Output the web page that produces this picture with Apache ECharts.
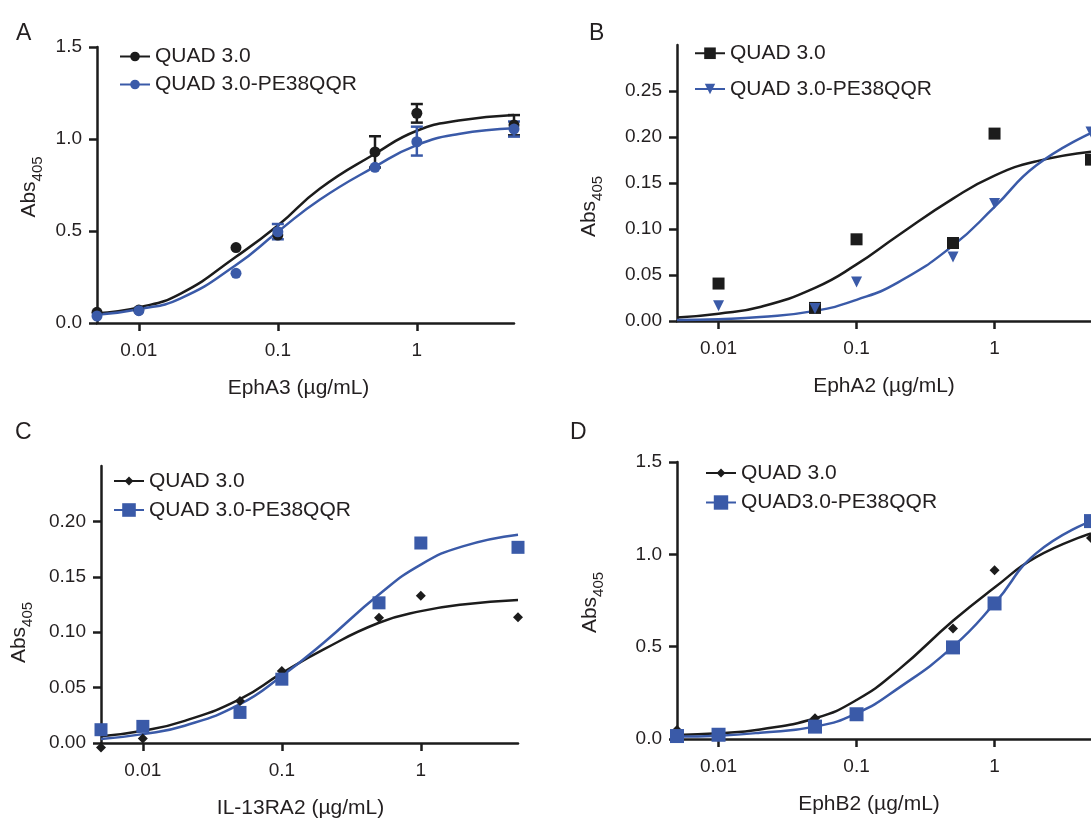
<!DOCTYPE html>
<html>
<head>
<meta charset="utf-8">
<script src="https://cdn.jsdelivr.net/npm/echarts@6/dist/echarts.min.js"></script>
<style>
  html, body { margin: 0; padding: 0; background: #fff; }
  #chart { width: 1091px; height: 820px; }
</style>
</head>
<body>
<div id="chart"></div>
<script>
// x ticks shared by all panels (log scale)
const xTicks = [0.01, 0.1, 1];

// A - EphA3
const doseA = [0.005, 0.01, 0.05, 0.1, 0.5, 1, 5];
const quadA = [0.058, 0.07, 0.41, 0.478, 0.93, 1.14, 1.076];
const peA = [0.038, 0.067, 0.27, 0.496, 0.846, 0.985, 1.054];
const errQuadA = [[0.5, 0.845, 1.015], [1, 1.089, 1.19], [5, 1.02, 1.13]];
const errPeA = [[0.1, 0.455, 0.538], [1, 0.91, 1.067], [5, 1.013, 1.095]];
const fitXA = [0.005, 0.01, 0.02, 0.05, 0.1, 0.2, 0.5, 1, 2, 5];
const fitQuadA = [0.053, 0.085, 0.16, 0.36, 0.53, 0.73, 0.92, 1.045, 1.10, 1.13];
const fitPeA = [0.045, 0.075, 0.134, 0.315, 0.496, 0.67, 0.85, 0.967, 1.027, 1.058];

// B - EphA2
const doseB = [0.01, 0.05, 0.1, 0.5, 1, 5];
const quadB = [0.0407, 0.0142, 0.0888, 0.0848, 0.2037, 0.1754];
const peB = [0.0167, 0.0135, 0.0424, 0.0696, 0.1276, 0.2054];
const fitXB = [0.005, 0.01, 0.02, 0.05, 0.1, 0.2, 0.5, 1, 2, 5];
const fitQuadB = [0.0037, 0.008, 0.0152, 0.036, 0.0615, 0.093, 0.133, 0.158, 0.1735, 0.184];
const fitPeB = [0.001, 0.002, 0.0043, 0.011, 0.023, 0.042, 0.082, 0.124, 0.169, 0.2043];

// C - IL-13RA2
const doseC = [0.005, 0.01, 0.05, 0.1, 0.5, 1, 5];
const quadC = [-0.004, 0.004, 0.038, 0.065, 0.113, 0.133, 0.1136];
const peC = [0.012, 0.015, 0.0276, 0.0576, 0.1265, 0.1805, 0.1766];
const fitXC = [0.005, 0.01, 0.02, 0.05, 0.1, 0.2, 0.5, 1, 2, 5];
const fitQuadC = [0.006, 0.011, 0.020, 0.0396, 0.063, 0.0845, 0.1085, 0.119, 0.125, 0.129];
const fitPeC = [0.0036, 0.008, 0.0156, 0.035, 0.0605, 0.0905, 0.134, 0.161, 0.1775, 0.188];

// D - EphB2
const doseD = [0.005, 0.01, 0.05, 0.1, 0.5, 1, 5];
const quadD = [0.049, 0.02, 0.112, 0.13, 0.599, 0.914, 1.089];
const peD = [0.016, 0.023, 0.067, 0.134, 0.496, 0.734, 1.18];
const fitXD = [0.005, 0.01, 0.02, 0.05, 0.1, 0.2, 0.5, 1, 2, 5];
const fitQuadD = [0.022, 0.031, 0.052, 0.112, 0.211, 0.373, 0.64, 0.82, 0.985, 1.113];
const fitPeD = [0.013, 0.018, 0.034, 0.067, 0.139, 0.274, 0.50, 0.734, 1.005, 1.18];

const FONT = 'Liberation Sans, Arial, Helvetica, sans-serif';
const INK = '#231f20';
const BLACK = '#1c1c1c';
const BLUE = '#3a5aa8';

const zip = (xs, ys) => xs.map((x, i) => [x, ys[i]]);

// 图例显示名
const legendNames = {
  a1: 'QUAD 3.0', a2: 'QUAD 3.0-PE38QQR',
  b1: 'QUAD 3.0', b2: 'QUAD 3.0-PE38QQR',
  c1: 'QUAD 3.0', c2: 'QUAD 3.0-PE38QQR',
  d1: 'QUAD 3.0', d2: 'QUAD3.0-PE38QQR'
};

const panels = [
  { key: 'a', grid: { left: 97, top: 47, width: 417, height: 276 }, yMax: 1.5,
    yTicks: [0, 0.5, 1, 1.5], dec: 1, xName: 'EphA3 (\u00b5g/mL)', xPad: [0, 14, 0, 0], yGap: 57, yPad: [0, 4, 0, 0],
    s1: { dose: doseA, vals: quadA, fx: fitXA, fy: fitQuadA, symbol: 'circle', size: 11, legendH: 12, err: errQuadA },
    s2: { dose: doseA, vals: peA, fx: fitXA, fy: fitPeA, symbol: 'circle', size: 11, legendH: 12, err: errPeA },
    legend: [{ left: 119, cy: 52 }, { left: 119, cy: 80 }] },
  { key: 'b', grid: { left: 677, top: 45, width: 414, height: 276 }, yMax: 0.3,
    yTicks: [0, 0.05, 0.1, 0.15, 0.2, 0.25], dec: 2, xName: 'EphA2 (\u00b5g/mL)', xPad: [0, 0, 0, 0], yGap: 77, yPad: [0, 47, 0, 0],
    s1: { dose: doseB, vals: quadB, fx: fitXB, fy: fitQuadB, symbol: 'rect', size: 12, legendH: 14.5 },
    s2: { dose: doseB, vals: peB, fx: fitXB, fy: fitPeB, symbol: 'triangle', rotate: 180, size: 11, legendH: 13 },
    legend: [{ left: 694, cy: 50 }, { left: 694, cy: 85 }] },
  { key: 'c', grid: { left: 101, top: 466, width: 417, height: 278 }, yMax: 0.25,
    yTicks: [0, 0.05, 0.1, 0.15, 0.2], dec: 2, xName: 'IL-13RA2 (\u00b5g/mL)', xPad: [0, 18, 0, 0], yGap: 71, yPad: [0, 56, 0, 0],
    s1: { dose: doseC, vals: quadC, fx: fitXC, fy: fitQuadC, symbol: 'diamond', size: 10, legendH: 11 },
    s2: { dose: doseC, vals: peC, fx: fitXC, fy: fitPeC, symbol: 'rect', size: 13, legendH: 17 },
    legend: [{ left: 113, cy: 476 }, { left: 113, cy: 508 }] },
  { key: 'd', grid: { left: 677, top: 462, width: 414, height: 277 }, yMax: 1.5,
    yTicks: [0, 0.5, 1, 1.5], dec: 1, xName: 'EphB2 (\u00b5g/mL)', xPad: [0, 30, 0, 0], yGap: 76, yPad: [0, 4, 0, 0],
    s1: { dose: doseD, vals: quadD, fx: fitXD, fy: fitQuadD, symbol: 'diamond', size: 10, legendH: 11 },
    s2: { dose: doseD, vals: peD, fx: fitXD, fy: fitPeD, symbol: 'rect', size: 14, legendH: 18 },
    legend: [{ left: 705, cy: 468 }, { left: 705, cy: 501 }] }
];

const option = {
  animation: false,
  backgroundColor: '#fff',
  textStyle: { fontFamily: FONT, color: INK },
  title: [
    { text: 'A', left: 11, top: 17 },
    { text: 'B', left: 584, top: 17 },
    { text: 'C', left: 10, top: 416 },
    { text: 'D', left: 565, top: 416 }
  ].map(t => Object.assign(t, { textStyle: { fontFamily: FONT, fontSize: 23, fontWeight: 'normal', color: INK } })),
  grid: [], xAxis: [], yAxis: [], legend: [], series: []
};

const axisLine = { lineStyle: { color: BLACK, width: 2.5 } };
const axisTick = { length: 8, lineStyle: { color: BLACK, width: 2.5 } };

panels.forEach((p, i) => {
  option.grid.push(Object.assign({ containLabel: false }, p.grid));
  option.xAxis.push({
    type: 'log', logBase: 10, gridIndex: i, min: 0.005, max: 5,
    name: p.xName, nameLocation: 'middle', nameGap: 55,
    nameTextStyle: { fontFamily: FONT, fontSize: 21, color: INK, padding: p.xPad },
    axisLine, splitLine: { show: false }, minorTick: { show: false },
    axisTick: Object.assign({ customValues: xTicks }, axisTick),
    axisLabel: { customValues: xTicks, fontFamily: FONT, fontSize: 19, color: INK, margin: 18,
      formatter: v => String(+v.toPrecision(3)) }
  });
  option.yAxis.push({
    type: 'value', gridIndex: i, min: 0, max: p.yMax,
    name: '{a|Abs}{s|405}', nameLocation: 'middle', nameGap: p.yGap,
    nameTextStyle: { fontFamily: FONT, color: INK, padding: p.yPad,
      rich: { a: { fontSize: 21, fontFamily: FONT, color: INK, lineHeight: 26, verticalAlign: 'bottom' },
              s: { fontSize: 15, fontFamily: FONT, color: INK, lineHeight: 26, verticalAlign: 'bottom', padding: [0, 0, -5, 0] } } },
    axisLine, splitLine: { show: false },
    axisTick: Object.assign({ customValues: p.yTicks }, axisTick),
    axisLabel: { customValues: p.yTicks, fontFamily: FONT, fontSize: 19, color: INK, margin: 15,
      formatter: v => (+v).toFixed(p.dec) }
  });

  [p.s1, p.s2].forEach((s, j) => {
    const color = j === 0 ? BLACK : BLUE;
    const name = p.key + (j + 1);
    // 拟合曲线 (legend icon = line + marker)
    option.series.push({
      name, type: 'line', xAxisIndex: i, yAxisIndex: i, smooth: 0.5,
      data: zip(s.fx, s.fy), showSymbol: false, symbol: s.symbol, symbolRotate: s.rotate || 0,
      color, lineStyle: { color, width: 2.5 }, itemStyle: { color }, z: 2, silent: true
    });
    if (s.err) {
      option.series.push({
        name: name + '-err', type: 'custom', xAxisIndex: i, yAxisIndex: i, z: 3, silent: true,
        data: s.err, encode: { x: 0, y: [1, 2] },
        renderItem: (params, api) => {
          const x = api.value(0);
          const top = api.coord([x, api.value(2)]);
          const bot = api.coord([x, api.value(1)]);
          const w = 6;
          const st = { stroke: color, lineWidth: 2.5 };
          return { type: 'group', children: [
            { type: 'line', shape: { x1: top[0], y1: top[1], x2: bot[0], y2: bot[1] }, style: st },
            { type: 'line', shape: { x1: top[0] - w, y1: top[1], x2: top[0] + w, y2: top[1] }, style: st },
            { type: 'line', shape: { x1: bot[0] - w, y1: bot[1], x2: bot[0] + w, y2: bot[1] }, style: st }
          ] };
        }
      });
    }
  });
  [p.s1, p.s2].forEach((s, j) => {
    const color = j === 0 ? BLACK : BLUE;
    option.series.push({
      name: p.key + (j + 1) + '-pts', type: 'scatter', xAxisIndex: i, yAxisIndex: i,
      data: zip(s.dose, s.vals), symbol: s.symbol, symbolSize: s.size, symbolRotate: s.rotate || 0,
      itemStyle: { color, opacity: 1 }, clip: false, z: 4 + j, silent: true
    });
    option.legend.push({
      data: [p.key + (j + 1)], left: p.legend[j].left, top: p.legend[j].cy - s.legendH / 2,
      padding: 0, itemWidth: 30, itemHeight: s.legendH, selectedMode: false,
      formatter: n => legendNames[n],
      textStyle: { fontFamily: FONT, fontSize: 21, color: INK }
    });
  });
});

const chart = echarts.init(document.getElementById('chart'), null, { renderer: 'canvas' });
chart.setOption(option);
</script>
</body>
</html>
